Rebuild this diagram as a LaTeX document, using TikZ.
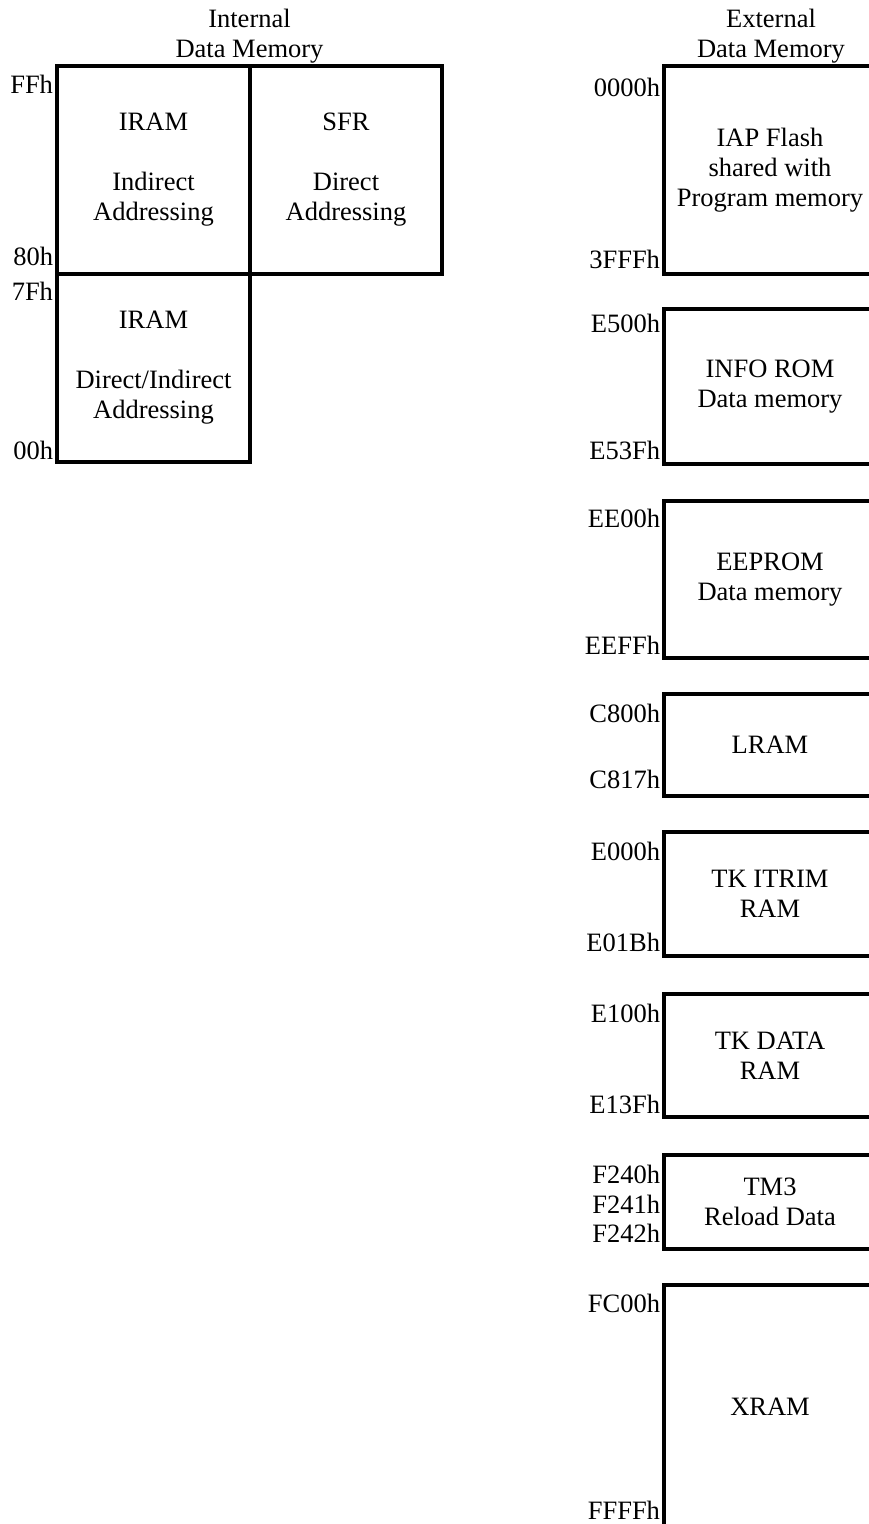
\documentclass[tikz,border=0pt]{standalone}
\usepackage{fontspec}
\setmainfont{Liberation Serif}
\begin{document}
\begin{tikzpicture}[x=1pt,y=-1pt,
  font=\fontsize{26.5}{30}\selectfont,
  membox/.style={draw=black,line width=4pt,inner sep=0pt,outer sep=0pt,anchor=north west,align=center},
  addr/.style={anchor=east,inner sep=0pt,outer sep=0pt},
  ttl/.style={anchor=north,inner sep=0pt,align=center}]
\useasboundingbox (0,0) rectangle (869,1524);
\begin{scope}
\clip (0,0) rectangle (869,1524);
% titles
\node[ttl] (tint) at (249.5,9) {Internal\\Data Memory};
\node[ttl] (text) at (771,9) {External\\Data Memory};
% internal data memory
\node[membox,minimum width=193pt,minimum height=208pt] (iramh) at (57,66) {IRAM\\[30pt]Indirect\\Addressing};
\node[membox,minimum width=192pt,minimum height=208pt] (sfr) at (250,66) {SFR\\[30pt]Direct\\Addressing};
\node[membox,minimum width=193pt,minimum height=188pt] (iraml) at (57,274) {IRAM\\[30pt]Direct/Indirect\\Addressing};
\node[addr] (aff) at (53,84) {FFh};
\node[addr] (a80) at (53,256) {80h};
\node[addr] (a7f) at (53,291) {7Fh};
\node[addr] (a00) at (53,450) {00h};
% external data memory
\node[membox,minimum width=212pt,minimum height=208pt] (iap) at (664,66) {IAP Flash\\shared with\\Program memory};
\node[membox,minimum width=212pt,minimum height=155pt] (info) at (664,309) {INFO ROM\\Data memory};
\node[membox,minimum width=212pt,minimum height=157pt] (eep) at (664,501) {EEPROM\\Data memory};
\node[membox,minimum width=212pt,minimum height=102pt] (lram) at (664,694) {LRAM};
\node[membox,minimum width=212pt,minimum height=124pt] (itrim) at (664,832) {TK ITRIM\\RAM};
\node[membox,minimum width=212pt,minimum height=123pt] (tkdata) at (664,994) {TK DATA\\RAM};
\node[membox,minimum width=212pt,minimum height=94pt] (tm3) at (664,1155) {TM3\\Reload Data};
\node[membox,minimum width=212pt,minimum height=244pt] (xram) at (664,1285) {XRAM};
\node[addr] (b0000) at (660,87) {0000h};
\node[addr] (b3fff) at (660,259) {3FFFh};
\node[addr] (be500) at (660,323) {E500h};
\node[addr] (be53f) at (660,450) {E53Fh};
\node[addr] (bee00) at (660,518) {EE00h};
\node[addr] (beeff) at (660,645) {EEFFh};
\node[addr] (bc800) at (660,713) {C800h};
\node[addr] (bc817) at (660,779) {C817h};
\node[addr] (be000) at (660,851) {E000h};
\node[addr] (be01b) at (660,942) {E01Bh};
\node[addr] (be100) at (660,1013) {E100h};
\node[addr] (be13f) at (660,1104) {E13Fh};
\node[addr] (bf240) at (660,1174) {F240h};
\node[addr] (bf241) at (660,1204) {F241h};
\node[addr] (bf242) at (660,1233) {F242h};
\node[addr] (bfc00) at (660,1303) {FC00h};
\node[addr] (bffff) at (660,1510) {FFFFh};
\end{scope}
\end{tikzpicture}
\end{document}
